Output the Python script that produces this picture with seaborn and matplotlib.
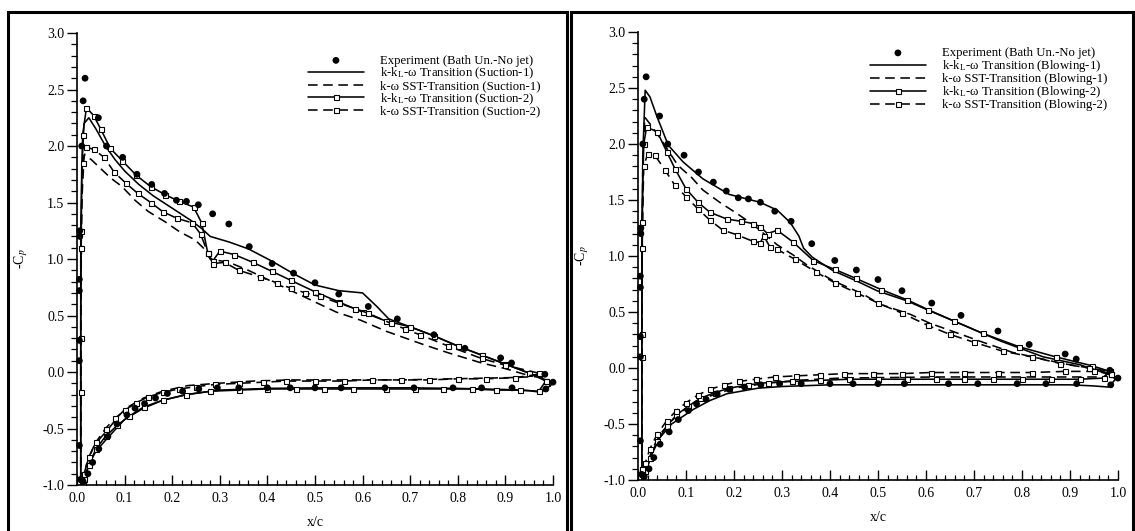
import matplotlib
matplotlib.use("Agg")
import matplotlib.pyplot as plt
import seaborn as sns
from matplotlib.patches import Rectangle
from matplotlib.ticker import MultipleLocator

# ---------------- data ----------------
# experiment (same in both panels)
exp_x = [0.005, 0.005, 0.005, 0.005, 0.006, 0.006, 0.010, 0.013, 0.017, 0.045, 0.062, 0.096,
         0.126, 0.157, 0.184, 0.209, 0.230, 0.255, 0.285, 0.319, 0.362, 0.410, 0.455, 0.500,
         0.550, 0.612, 0.673, 0.750, 0.815, 0.890, 0.913, 0.983, 1.000,
         0.005, 0.008, 0.013, 0.023, 0.033, 0.046, 0.065, 0.084, 0.105, 0.122, 0.142, 0.165,
         0.190, 0.222, 0.256, 0.295, 0.340, 0.400, 0.448, 0.500, 0.555, 0.647, 0.708, 0.790,
         0.850, 0.914, 0.985]
exp_cp = [0.10, 0.28, 0.72, 0.82, 1.20, 1.25, 2.00, 2.40, 2.60, 2.25, 2.00, 1.90,
          1.75, 1.66, 1.58, 1.52, 1.51, 1.48, 1.40, 1.31, 1.11, 0.96, 0.875, 0.79,
          0.69, 0.58, 0.47, 0.33, 0.21, 0.125, 0.08, -0.02, -0.09,
          -0.65, -0.95, -0.97, -0.90, -0.80, -0.68, -0.57, -0.46, -0.38, -0.32, -0.28, -0.23,
          -0.19, -0.17, -0.15, -0.14, -0.14, -0.14, -0.14, -0.14, -0.14, -0.14, -0.14, -0.14,
          -0.14, -0.14, -0.15]

# ---- Suction panel ----
s1_kkl_up_x = [0.008, 0.008, 0.010, 0.015, 0.025, 0.040, 0.060, 0.080, 0.100, 0.130, 0.160, 0.200,
               0.240, 0.262, 0.280, 0.320, 0.360, 0.410, 0.455, 0.500, 0.550, 0.600, 0.630, 0.655,
               0.700, 0.750, 0.800, 0.850, 0.900, 0.950, 0.985, 0.995]
s1_kkl_up_y = [-1.00, 0.50, 1.80, 2.20, 2.25, 2.15, 2.00, 1.88, 1.78, 1.66, 1.56, 1.45,
               1.34, 1.27, 1.20, 1.15, 1.09, 0.98, 0.87, 0.77, 0.72, 0.70, 0.58, 0.47,
               0.40, 0.32, 0.23, 0.15, 0.07, -0.01, -0.07, -0.12]
s1_kkl_lo_x = [0.008, 0.012, 0.020, 0.030, 0.040, 0.065, 0.100, 0.140, 0.180, 0.230, 0.300, 0.400,
               0.500, 0.600, 0.700, 0.800, 0.900, 0.950, 0.975, 0.995]
s1_kkl_lo_y = [-1.00, -0.97, -0.88, -0.78, -0.70, -0.58, -0.42, -0.32, -0.25, -0.20, -0.16, -0.145,
               -0.14, -0.14, -0.14, -0.145, -0.155, -0.165, -0.18, -0.12]

s1_sst_up_x = [0.008, 0.008, 0.010, 0.015, 0.030, 0.050, 0.070, 0.095, 0.122, 0.150, 0.185, 0.216,
               0.248, 0.265, 0.280, 0.320, 0.360, 0.410, 0.455, 0.505, 0.545, 0.595, 0.650, 0.690,
               0.730, 0.780, 0.850, 0.900, 0.940, 0.980]
s1_sst_up_y = [-1.00, 0.40, 1.50, 1.92, 1.88, 1.80, 1.72, 1.64, 1.52, 1.42, 1.33, 1.24,
               1.17, 1.10, 1.00, 0.97, 0.90, 0.80, 0.71, 0.61, 0.53, 0.46, 0.36, 0.30,
               0.24, 0.17, 0.08, 0.03, -0.02, -0.04]
s1_sst_lo_x = [0.008, 0.012, 0.020, 0.035, 0.050, 0.065, 0.085, 0.103, 0.140, 0.180, 0.233, 0.295,
               0.370, 0.448, 0.560, 0.680, 0.790, 0.907, 0.970, 0.980]
s1_sst_lo_y = [-1.00, -0.95, -0.82, -0.66, -0.58, -0.51, -0.40, -0.32, -0.23, -0.17, -0.12, -0.10,
               -0.08, -0.07, -0.07, -0.07, -0.06, -0.05, -0.04, -0.04]

s2_kkl_up_x = [0.008, 0.008, 0.008, 0.012, 0.020, 0.035, 0.050, 0.070, 0.095, 0.125, 0.155, 0.185,
               0.215, 0.245, 0.262, 0.275, 0.285, 0.300, 0.330, 0.370, 0.410, 0.450, 0.500, 0.550,
               0.600, 0.650, 0.700, 0.750, 0.800, 0.850, 0.900, 0.950, 0.985]
s2_kkl_up_y = [-0.95, 0.30, 1.25, 2.10, 2.34, 2.27, 2.15, 1.98, 1.87, 1.74, 1.64, 1.57,
               1.51, 1.46, 1.32, 1.05, 0.98, 1.07, 1.04, 0.97, 0.89, 0.81, 0.71, 0.62,
               0.53, 0.45, 0.40, 0.32, 0.23, 0.15, 0.07, -0.01, -0.08]
s2_kkl_lo_x = [0.008, 0.015, 0.025, 0.040, 0.060, 0.085, 0.110, 0.140, 0.180, 0.230, 0.280, 0.340,
               0.400, 0.460, 0.520, 0.580, 0.650, 0.710, 0.770, 0.830, 0.880, 0.930, 0.970, 0.985]
s2_kkl_lo_y = [-0.95, -0.95, -0.82, -0.68, -0.57, -0.47, -0.39, -0.31, -0.25, -0.20, -0.17, -0.16,
               -0.15, -0.15, -0.15, -0.15, -0.15, -0.15, -0.15, -0.15, -0.16, -0.16, -0.17, -0.08]

s2_sst_up_x = [0.008, 0.008, 0.008, 0.012, 0.020, 0.035, 0.057, 0.078, 0.103, 0.128, 0.155, 0.180,
               0.210, 0.242, 0.260, 0.275, 0.285, 0.310, 0.340, 0.385, 0.420, 0.450, 0.480, 0.510,
               0.550, 0.585, 0.612, 0.660, 0.690, 0.720, 0.780, 0.850, 0.900, 0.970]
s2_sst_up_y = [-0.95, -0.18, 1.10, 1.85, 1.99, 1.97, 1.90, 1.77, 1.67, 1.58, 1.50, 1.42,
               1.36, 1.32, 1.22, 1.05, 0.96, 0.97, 0.90, 0.84, 0.79, 0.74, 0.70, 0.67,
               0.61, 0.56, 0.52, 0.43, 0.38, 0.33, 0.23, 0.12, 0.06, -0.01]
s2_sst_lo_x = [0.008, 0.015, 0.025, 0.040, 0.060, 0.080, 0.100, 0.125, 0.150, 0.180, 0.215, 0.250,
               0.290, 0.340, 0.390, 0.440, 0.500, 0.560, 0.620, 0.680, 0.740, 0.800, 0.860, 0.920, 0.970]
s2_sst_lo_y = [-0.95, -0.90, -0.75, -0.62, -0.50, -0.41, -0.34, -0.27, -0.22, -0.18, -0.15, -0.13,
               -0.11, -0.10, -0.09, -0.08, -0.08, -0.08, -0.07, -0.07, -0.07, -0.06, -0.06, -0.05, -0.02]

# ---- Blowing panel ----
b1_kkl_up_x = [0.008, 0.008, 0.010, 0.015, 0.025, 0.040, 0.063, 0.094, 0.135, 0.190, 0.254, 0.290,
               0.317, 0.335, 0.345, 0.363, 0.406, 0.454, 0.498, 0.560, 0.608, 0.680, 0.712, 0.756,
               0.844, 0.920, 0.983, 0.995]
b1_kkl_up_y = [-1.00, 0.40, 1.90, 2.48, 2.42, 2.24, 1.99, 1.84, 1.69, 1.55, 1.48, 1.41,
               1.30, 1.18, 1.07, 0.99, 0.87, 0.78, 0.69, 0.60, 0.51, 0.38, 0.32, 0.24,
               0.10, 0.03, -0.06, -0.10]
b1_kkl_lo_x = [0.008, 0.012, 0.020, 0.030, 0.046, 0.070, 0.115, 0.150, 0.185, 0.250, 0.300, 0.400,
               0.500, 0.600, 0.700, 0.800, 0.900, 0.950, 0.980, 0.995]
b1_kkl_lo_y = [-1.00, -0.98, -0.88, -0.76, -0.62, -0.50, -0.37, -0.29, -0.23, -0.18, -0.165, -0.15,
               -0.15, -0.15, -0.15, -0.15, -0.15, -0.16, -0.17, -0.10]

b1_sst_up_x = [0.008, 0.008, 0.010, 0.014, 0.025, 0.045, 0.083, 0.112, 0.135, 0.170, 0.206, 0.240,
               0.265, 0.290, 0.323, 0.352, 0.406, 0.469, 0.504, 0.567, 0.608, 0.680, 0.712, 0.780,
               0.885, 0.983]
b1_sst_up_y = [-1.00, 0.50, 1.80, 2.24, 2.18, 2.06, 1.81, 1.70, 1.59, 1.48, 1.38, 1.28,
               1.19, 1.10, 1.01, 0.92, 0.78, 0.66, 0.57, 0.48, 0.40, 0.29, 0.24, 0.14,
               0.04, -0.03]
b1_sst_lo_x = [0.008, 0.012, 0.020, 0.035, 0.050, 0.075, 0.110, 0.150, 0.200, 0.260, 0.330, 0.420,
               0.520, 0.620, 0.720, 0.820, 0.920, 0.970, 0.983]
b1_sst_lo_y = [-1.00, -0.96, -0.84, -0.68, -0.57, -0.45, -0.33, -0.25, -0.18, -0.14, -0.11, -0.09,
               -0.085, -0.08, -0.08, -0.08, -0.08, -0.08, -0.03]

b2_kkl_up_x = [0.008, 0.008, 0.008, 0.012, 0.018, 0.040, 0.060, 0.077, 0.100, 0.125, 0.150, 0.185,
               0.215, 0.240, 0.255, 0.270, 0.290, 0.323, 0.365, 0.410, 0.454, 0.507, 0.560, 0.605,
               0.658, 0.718, 0.794, 0.870, 0.946, 0.983]
b2_kkl_up_y = [-0.95, 0.30, 1.30, 2.00, 2.15, 2.11, 1.93, 1.78, 1.60, 1.48, 1.39, 1.33,
               1.31, 1.29, 1.26, 1.20, 1.23, 1.125, 0.96, 0.88, 0.80, 0.70, 0.61, 0.52,
               0.42, 0.31, 0.19, 0.10, 0.02, -0.03]
b2_kkl_lo_x = [0.008, 0.015, 0.025, 0.040, 0.060, 0.080, 0.105, 0.130, 0.160, 0.190, 0.230, 0.270,
               0.320, 0.380, 0.440, 0.500, 0.560, 0.620, 0.680, 0.740, 0.800, 0.860, 0.920, 0.970, 0.983]
b2_kkl_lo_y = [-0.95, -0.92, -0.80, -0.65, -0.52, -0.42, -0.34, -0.27, -0.22, -0.18, -0.15, -0.13,
               -0.12, -0.11, -0.10, -0.10, -0.10, -0.10, -0.10, -0.10, -0.10, -0.10, -0.10, -0.09, -0.03]

b2_sst_up_x = [0.008, 0.008, 0.008, 0.012, 0.020, 0.035, 0.056, 0.077, 0.100, 0.125, 0.150, 0.177,
               0.206, 0.240, 0.255, 0.262, 0.275, 0.290, 0.327, 0.370, 0.410, 0.456, 0.500, 0.550,
               0.604, 0.650, 0.700, 0.760, 0.820, 0.880, 0.940, 0.985]
b2_sst_up_y = [-0.90, 0.10, 1.07, 1.80, 1.91, 1.90, 1.77, 1.63, 1.53, 1.42, 1.32, 1.23,
               1.19, 1.13, 1.12, 1.18, 1.08, 1.06, 0.97, 0.86, 0.76, 0.67, 0.58, 0.49,
               0.38, 0.30, 0.23, 0.15, 0.10, 0.04, 0.00, -0.05]
b2_sst_lo_x = [0.008, 0.015, 0.025, 0.040, 0.060, 0.080, 0.100, 0.125, 0.150, 0.180, 0.210, 0.245,
               0.285, 0.330, 0.380, 0.430, 0.490, 0.550, 0.610, 0.680, 0.750, 0.820, 0.890, 0.950, 0.985]
b2_sst_lo_y = [-0.90, -0.85, -0.72, -0.59, -0.47, -0.38, -0.31, -0.24, -0.19, -0.15, -0.12, -0.10,
               -0.08, -0.07, -0.06, -0.05, -0.05, -0.05, -0.04, -0.04, -0.04, -0.04, -0.03, -0.03, -0.05]

x_ticks = [0.0, 0.1, 0.2, 0.3, 0.4, 0.5, 0.6, 0.7, 0.8, 0.9, 1.0]
y_ticks = [-1.0, -0.5, 0.0, 0.5, 1.0, 1.5, 2.0, 2.5, 3.0]
exp_label = "Experiment (Bath Un.-No jet)"
kkl = r"k-k$_\mathregular{L}$-ω Transition"
sst = "k-ω SST-Transition"

# ---------------- style ----------------
sns.set_style("ticks", {"axes.edgecolor": "black", "xtick.color": "black",
                        "ytick.color": "black", "text.color": "black",
                        "axes.labelcolor": "black"})
plt.rcParams['font.family'] = ['Liberation Serif', 'DejaVu Serif']
plt.rcParams['mathtext.fontset'] = 'stix'

fig = plt.figure(figsize=(11.35, 5.31), dpi=100)
axL = fig.add_axes([0.0678, 0.0866, 0.4194, 0.8512])
axR = fig.add_axes([0.5621, 0.0960, 0.4229, 0.8437])

DASH = (6, 3.5)
LW = 1.15


def loop(lx, ly, ux, uy):
    return list(lx[::-1]) + list(ux), list(ly[::-1]) + list(uy)


def panel(ax, series, tag, anchor):
    sns.scatterplot(x=exp_x, y=exp_cp, ax=ax, color='black', s=24, edgecolor='none',
                    label=exp_label, zorder=5, clip_on=False)
    styles = [dict(linestyle='-', marker=None),
              dict(linestyle=(0, DASH), marker=None),
              dict(linestyle='-', marker='s'),
              dict(linestyle=(0, DASH), marker='s')]
    labels = [f"{kkl} ({tag}-1)", f"{sst} ({tag}-1)", f"{kkl} ({tag}-2)", f"{sst} ({tag}-2)"]
    for (lx, ly, ux, uy), st, lab in zip(series, styles, labels):
        xx, yy = loop(lx, ly, ux, uy)
        kw = dict(color='black', linewidth=LW, linestyle=st['linestyle'])
        if st['marker']:
            kw.update(marker='s', markersize=3.6, markerfacecolor='white',
                      markeredgecolor='black', markeredgewidth=0.8)
        sns.lineplot(x=xx, y=yy, sort=False, estimator=None, ax=ax, label=lab, **kw)

    ax.set_xlim(0, 1)
    ax.set_ylim(-1, 3)
    ax.set_xticks(x_ticks)
    ax.set_yticks(y_ticks)
    ax.set_xticklabels([f"{v:.1f}" for v in x_ticks])
    ax.set_yticklabels([f"{v:.1f}" for v in y_ticks])
    ax.xaxis.set_minor_locator(MultipleLocator(0.02))
    ax.yaxis.set_minor_locator(MultipleLocator(0.1))
    ax.tick_params(axis='x', which='major', direction='in', length=7, width=1.0,
                   labelsize=10, pad=5)
    ax.tick_params(axis='x', which='minor', direction='in', length=3.5, width=0.9)
    ax.tick_params(axis='y', which='major', direction='out', length=7, width=1.0,
                   labelsize=10, pad=2)
    ax.tick_params(axis='y', which='minor', direction='out', length=4, width=0.9)
    for sp in ['top', 'right']:
        ax.spines[sp].set_visible(False)
    for sp in ['left', 'bottom']:
        ax.spines[sp].set_linewidth(1.2)
    ax.set_xlabel("x/c", fontsize=10, labelpad=8)
    ax.set_ylabel(r"-C$_p$", fontsize=10, labelpad=9)

    h, l = ax.get_legend_handles_labels()
    ax.legend(h, l, loc='upper left', bbox_to_anchor=anchor, frameon=False,
              fontsize=9.2, handlelength=4.4, handletextpad=1.25, labelspacing=-0.08,
              borderpad=0, borderaxespad=0, numpoints=1, markerscale=1.0)


panel(axL, [(s1_kkl_lo_x, s1_kkl_lo_y, s1_kkl_up_x, s1_kkl_up_y),
            (s1_sst_lo_x, s1_sst_lo_y, s1_sst_up_x, s1_sst_up_y),
            (s2_kkl_lo_x, s2_kkl_lo_y, s2_kkl_up_x, s2_kkl_up_y),
            (s2_sst_lo_x, s2_sst_lo_y, s2_sst_up_x, s2_sst_up_y)],
      "Suction", (0.485, 0.952))
panel(axR, [(b1_kkl_lo_x, b1_kkl_lo_y, b1_kkl_up_x, b1_kkl_up_y),
            (b1_sst_lo_x, b1_sst_lo_y, b1_sst_up_x, b1_sst_up_y),
            (b2_kkl_lo_x, b2_kkl_lo_y, b2_kkl_up_x, b2_kkl_up_y),
            (b2_sst_lo_x, b2_sst_lo_y, b2_sst_up_x, b2_sst_up_y)],
      "Blowing", (0.483, 0.966))

# panel frames
W, H = 1135.0, 531.0
for x0, x1 in [(8, 567), (571, 1133)]:
    fig.patches.append(Rectangle((x0 / W, -0.01), (x1 - x0) / W, 1 - 12 / H + 0.01,
                                 transform=fig.transFigure, fill=False,
                                 edgecolor='black', linewidth=2.2))

fig.savefig("out.png", dpi=100)
